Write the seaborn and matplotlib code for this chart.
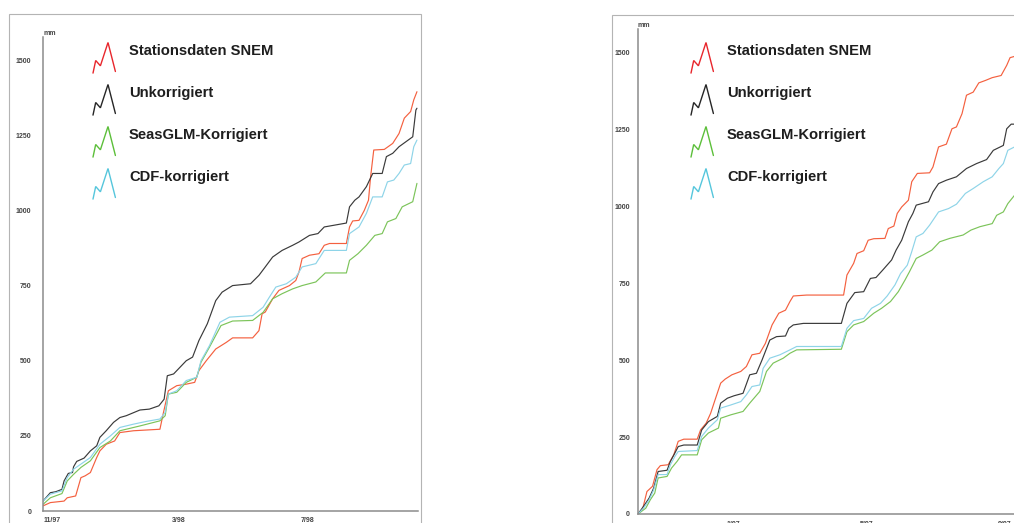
import numpy as np
import pandas as pd
import matplotlib
matplotlib.use("Agg")
import matplotlib.pyplot as plt
import matplotlib.dates as mdates
from matplotlib.patches import Rectangle
import seaborn as sns

# ---- Cumulative precipitation (mm), period 1997/98 ----
start_a = "1997-10-23"
red_a_days = [0, 7, 20, 23, 31, 36, 40, 45, 51, 54, 60, 68, 73, 86, 111, 114, 119, 127, 136, 144, 148, 155, 164, 174, 180, 199, 205, 208, 211, 218, 224, 234, 240, 243, 246, 253, 262, 267, 272, 288, 291, 294, 300, 305, 309, 311, 314, 324, 332, 338, 343, 349, 352, 355]
red_a_vals = [17, 28, 33, 44, 50, 111, 117, 128, 178, 200, 222, 233, 261, 267, 272, 322, 400, 417, 422, 428, 467, 500, 539, 561, 576, 576, 600, 656, 662, 706, 734, 750, 767, 795, 840, 851, 856, 884, 890, 890, 945, 965, 967, 1000, 1034, 1112, 1201, 1203, 1223, 1256, 1307, 1329, 1368, 1395]
blk_a_days = [0, 7, 12, 18, 20, 24, 28, 29, 32, 39, 45, 51, 54, 60, 67, 73, 79, 92, 101, 110, 115, 118, 124, 130, 136, 142, 148, 156, 164, 170, 180, 197, 205, 211, 218, 227, 237, 243, 253, 261, 267, 288, 291, 296, 300, 307, 313, 322, 326, 332, 338, 351, 354, 355]
blk_a_vals = [33, 61, 64, 72, 100, 125, 128, 147, 165, 176, 200, 217, 245, 267, 295, 311, 317, 336, 339, 350, 372, 450, 456, 478, 500, 512, 567, 623, 700, 728, 750, 756, 784, 812, 845, 867, 884, 895, 917, 923, 945, 958, 1012, 1034, 1045, 1079, 1123, 1123, 1179, 1190, 1212, 1245, 1334, 1340]
grn_a_days = [0, 7, 18, 23, 29, 36, 45, 54, 64, 73, 92, 111, 116, 119, 127, 136, 146, 150, 158, 169, 180, 199, 209, 218, 227, 237, 246, 259, 268, 288, 291, 299, 307, 315, 322, 327, 335, 341, 351, 355]
grn_a_vals = [22, 44, 58, 100, 122, 145, 167, 211, 233, 267, 283, 300, 317, 389, 395, 428, 445, 495, 545, 617, 632, 634, 661, 706, 723, 739, 750, 762, 792, 792, 834, 856, 884, 917, 923, 962, 973, 1012, 1029, 1090]
cdf_a_days = [0, 7, 18, 23, 29, 36, 45, 54, 64, 73, 86, 98, 111, 116, 119, 127, 136, 146, 150, 158, 168, 177, 199, 209, 215, 221, 231, 240, 246, 259, 267, 288, 291, 300, 307, 313, 322, 327, 333, 338, 343, 349, 352, 355]
cdf_a_vals = [33, 56, 67, 111, 139, 156, 178, 222, 250, 278, 289, 298, 306, 328, 389, 400, 434, 445, 500, 550, 628, 645, 650, 678, 712, 745, 756, 778, 812, 823, 867, 867, 923, 945, 990, 1045, 1045, 1095, 1101, 1123, 1151, 1156, 1212, 1234]

# ---- Cumulative precipitation (mm), period 1996/97 ----
start_b = "1996-10-08"
red_b_days = [0, 4, 8, 13, 17, 20, 27, 32, 36, 41, 53, 56, 61, 65, 69, 74, 78, 84, 92, 97, 102, 109, 114, 120, 126, 132, 136, 139, 151, 184, 187, 193, 196, 202, 206, 211, 221, 224, 229, 232, 236, 242, 245, 250, 261, 264, 269, 276, 281, 285, 290, 294, 300, 305, 311, 317, 325, 330, 333, 337]
red_b_vals = [0, 14, 73, 90, 144, 157, 160, 192, 236, 243, 243, 273, 295, 327, 371, 425, 438, 452, 463, 479, 517, 522, 554, 614, 652, 662, 690, 708, 711, 711, 776, 814, 846, 855, 889, 894, 895, 927, 935, 976, 997, 1019, 1079, 1106, 1108, 1127, 1192, 1201, 1251, 1257, 1300, 1360, 1370, 1400, 1408, 1417, 1424, 1457, 1482, 1486]
blk_b_days = [0, 5, 10, 14, 18, 26, 29, 33, 36, 41, 53, 57, 63, 71, 74, 80, 86, 94, 100, 106, 111, 118, 124, 132, 135, 139, 148, 182, 187, 194, 202, 208, 213, 219, 227, 231, 236, 242, 246, 249, 260, 264, 269, 276, 285, 294, 303, 312, 318, 327, 330, 334, 337]
blk_b_vals = [0, 25, 52, 84, 138, 142, 171, 198, 219, 224, 224, 273, 300, 317, 360, 376, 384, 392, 452, 457, 500, 565, 576, 578, 603, 614, 619, 619, 684, 719, 722, 765, 768, 792, 825, 857, 889, 949, 976, 1003, 1014, 1046, 1073, 1084, 1095, 1122, 1138, 1151, 1181, 1197, 1251, 1266, 1266]
grn_b_days = [0, 7, 11, 15, 18, 26, 30, 35, 39, 53, 57, 63, 72, 74, 83, 94, 100, 109, 115, 121, 130, 136, 142, 182, 187, 193, 202, 211, 218, 226, 233, 239, 243, 249, 255, 263, 270, 279, 291, 298, 306, 317, 321, 327, 331, 337]
grn_b_vals = [0, 19, 46, 68, 117, 122, 149, 171, 192, 192, 241, 263, 279, 311, 322, 333, 360, 398, 463, 490, 506, 522, 533, 535, 592, 614, 625, 652, 668, 690, 722, 760, 787, 830, 841, 857, 884, 895, 906, 922, 933, 943, 970, 981, 1008, 1035]
cdf_b_days = [0, 5, 10, 14, 18, 26, 29, 33, 36, 53, 57, 63, 71, 74, 83, 92, 97, 102, 109, 112, 118, 127, 136, 142, 182, 187, 193, 202, 209, 217, 223, 230, 235, 241, 245, 249, 255, 261, 269, 278, 285, 293, 300, 309, 317, 323, 327, 331, 337]
cdf_b_vals = [0, 19, 46, 78, 128, 128, 160, 187, 203, 206, 252, 279, 306, 344, 354, 365, 387, 414, 419, 473, 506, 517, 533, 544, 544, 603, 628, 635, 668, 684, 708, 744, 781, 808, 852, 900, 911, 938, 981, 992, 1006, 1041, 1057, 1079, 1095, 1122, 1138, 1181, 1192]

series_names = ["Stationsdaten SNEM", "Unkorrigiert", "SeasGLM-Korrigiert", "CDF-korrigiert"]
line_colors = ["#f4603f", "#3a3a3a", "#7cc45a", "#8ed4e8"]
icon_colors = ["#e8262c", "#262626", "#5cbf3a", "#55c6dc"]
y_ticks = [0, 250, 500, 750, 1000, 1250, 1500]


def frame(start, parts):
    t0 = pd.Timestamp(start)
    rows = []
    for name, (days, vals) in zip(series_names, parts):
        for d, v in zip(days, vals):
            rows.append({"date": t0 + pd.Timedelta(days=d), "mm": v, "series": name})
    return pd.DataFrame(rows)


df_a = frame(start_a, [(red_a_days, red_a_vals), (blk_a_days, blk_a_vals),
                       (grn_a_days, grn_a_vals), (cdf_a_days, cdf_a_vals)])
df_b = frame(start_b, [(red_b_days, red_b_vals), (blk_b_days, blk_b_vals),
                       (grn_b_days, grn_b_vals), (cdf_b_days, cdf_b_vals)])

sns.set_style("white")
plt.rcParams["font.family"] = ["Liberation Sans", "DejaVu Sans"]

W, H = 1014, 523
fig = plt.figure(figsize=(W / 100, H / 100), dpi=100)
fig.patch.set_facecolor("white")

# outer panel frames
fig.add_artist(Rectangle((9 / W, -0.1), 412 / W, 1.1 - 14 / H, transform=fig.transFigure,
                         fill=False, edgecolor="#b4b4b4", lw=0.8))
fig.add_artist(Rectangle((612 / W, -0.1), 0.5, 1.1 - 15 / H, transform=fig.transFigure,
                         fill=False, edgecolor="#b4b4b4", lw=0.8))

ax_a = fig.add_axes([43 / W, 1 - 511 / H, 375 / W, 474 / H])
ax_b = fig.add_axes([638 / W, 1 - 514 / H, 400 / W, 485 / H])

palette = dict(zip(series_names, line_colors))


def month_label(x, pos):
    d = mdates.num2date(x)
    return "%d/%s" % (d.month, d.strftime("%y"))


def style_axes(ax, df, xlim, months, ylim, ypad, xpad):
    sns.lineplot(data=df, x="date", y="mm", hue="series", palette=palette,
                 estimator=None, sort=False, legend=False, linewidth=0.85, ax=ax)
    ax.set_xlim(pd.Timestamp(xlim[0]), pd.Timestamp(xlim[1]))
    ax.set_ylim(*ylim)
    ax.set_xlabel("")
    ax.set_ylabel("")
    for s in ["top", "right"]:
        ax.spines[s].set_visible(False)
    for s in ["left", "bottom"]:
        ax.spines[s].set_color("#8c8c8c")
        ax.spines[s].set_linewidth(1.1)
    ax.set_yticks(y_ticks)
    ax.set_yticklabels([str(v) for v in y_ticks])
    ax.xaxis.set_major_locator(mdates.MonthLocator(bymonth=months))
    ax.xaxis.set_major_formatter(matplotlib.ticker.FuncFormatter(month_label))
    ax.tick_params(axis="y", direction="inout", length=3.5, width=0.7, color="#8c8c8c",
                   labelsize=5, labelcolor="#444444", pad=ypad)
    ax.tick_params(axis="x", direction="inout", length=3.5, width=0.7, color="#8c8c8c",
                   labelsize=5, labelcolor="#444444", pad=xpad)
    for lab in ax.get_xticklabels() + ax.get_yticklabels():
        lab.set_fontweight("bold")
    ax.set_facecolor("none")
    ax.text(0.0, 1.0, "mm", transform=ax.transAxes, fontsize=5, fontweight="bold",
            color="#444444", ha="left", va="bottom")


style_axes(ax_a, df_a, ("1997-10-23", "1998-10-14"), [11, 3, 7], (0, 1577), 6.5, 2.5)
style_axes(ax_b, df_b, ("1996-10-08", "1997-10-01"), [1, 5, 9], (0, 1575), 4.0, 3.5)

# zigzag legend glyph, pixel offsets from the glyph's top-left corner
icon_dx = [0.0, 2.7, 7.4, 15.0, 22.4]
icon_dy = [30.6, 18.0, 23.3, 0.0, 29.0]


def draw_legend(ax, left_px, top_px):
    pos = ax.get_position()

    def to_axes(px, py):
        return ((px / W - pos.x0) / pos.width, ((1 - py / H) - pos.y0) / pos.height)

    for i, (name, col) in enumerate(zip(series_names, icon_colors)):
        top = top_px + 42 * i
        pts = [to_axes(left_px + dx, top + dy) for dx, dy in zip(icon_dx, icon_dy)]
        ax.plot([p[0] for p in pts], [p[1] for p in pts], transform=ax.transAxes,
                color=col, lw=1.0, clip_on=False, solid_joinstyle="miter")
        tx, ty = to_axes(left_px + 36, top + 8.5)
        ax.text(tx, ty, name, transform=ax.transAxes, fontsize=10.6, fontweight="bold",
                color="#1e1e1e", ha="left", va="center")


draw_legend(ax_a, 93, 42.5)
draw_legend(ax_b, 691, 42.5)

fig.savefig("out.png", dpi=100, facecolor="white")
